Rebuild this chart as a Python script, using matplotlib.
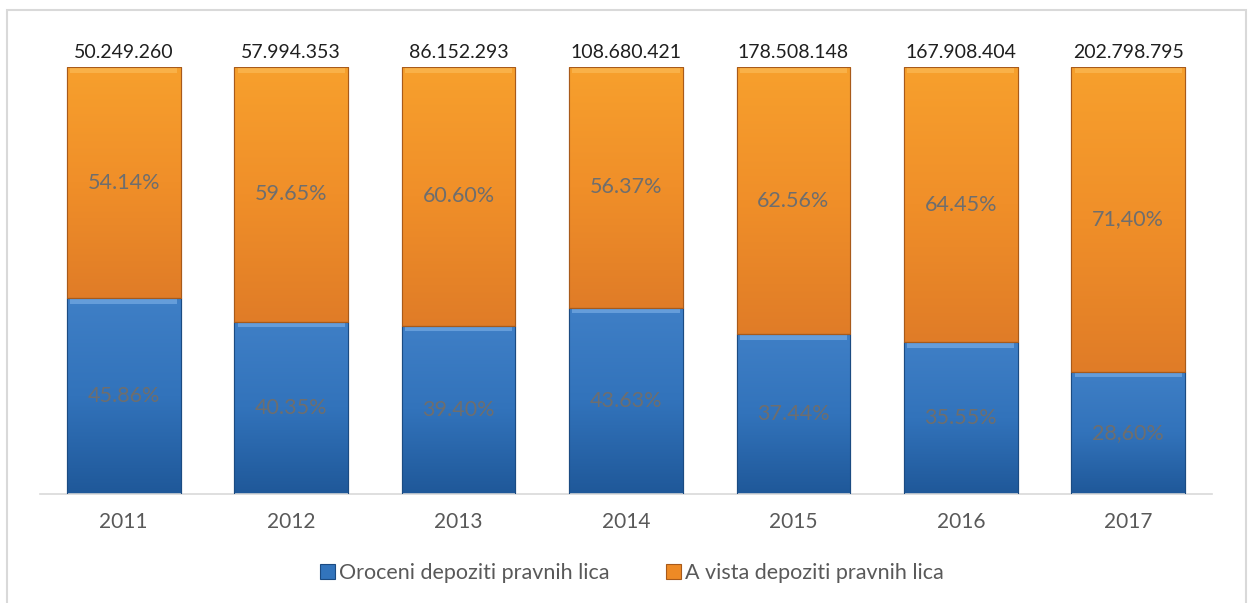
import matplotlib
matplotlib.use("Agg")
import matplotlib.pyplot as plt
import numpy as np
from matplotlib.colors import LinearSegmentedColormap
from matplotlib.patches import Rectangle

plt.rcParams["font.family"] = ["Lato", "DejaVu Sans"]

years = ["2011", "2012", "2013", "2014", "2015", "2016", "2017"]
oroceni = [45.86, 40.35, 39.40, 43.63, 37.44, 35.55, 28.60]
a_vista = [54.14, 59.65, 60.60, 56.37, 62.56, 64.45, 71.40]
oroceni_labels = ["45.86%", "40.35%", "39.40%", "43.63%", "37.44%", "35.55%", "28,60%"]
a_vista_labels = ["54.14%", "59.65%", "60.60%", "56.37%", "62.56%", "64.45%", "71,40%"]
totals = ["50.249.260", "57.994.353", "86.152.293", "108.680.421",
          "178.508.148", "167.908.404", "202.798.795"]

BLUE = "#3274BC"
ORANGE = "#EE8A25"
blue_cmap = LinearSegmentedColormap.from_list("b", ["#1F5899", "#3273BB", "#3F7FC6"])
orange_cmap = LinearSegmentedColormap.from_list("o", ["#E07C27", "#F08F29", "#F7A02D"])

fig = plt.figure(figsize=(12.5, 6.03), dpi=100)
fig.patches.append(Rectangle((7 / 1250, -0.01), 1239 / 1250, 593 / 603 + 0.01,
                             transform=fig.transFigure, fill=False,
                             edgecolor="#D9D9D9", linewidth=1.5))
ax = fig.add_axes([40 / 1250, 109 / 603, 1172 / 1250, 427 / 603])

x = np.arange(len(years))
w = 0.68
b1 = ax.bar(x, oroceni, w, color=BLUE, edgecolor="#1B4B82", linewidth=0.8,
            label="Oroceni depoziti pravnih lica", zorder=2)
b2 = ax.bar(x, a_vista, w, bottom=oroceni, color=ORANGE, edgecolor="#A85A1A",
            linewidth=0.8, label="A vista depoziti pravnih lica", zorder=2)

grad = np.linspace(0, 1, 256).reshape(-1, 1)
for bars, cmap, hi in ((b1, blue_cmap, "#6FA6E0"), (b2, orange_cmap, "#FBB650")):
    for p in bars:
        x0, y0 = p.get_x(), p.get_y()
        pw, ph = p.get_width(), p.get_height()
        im = ax.imshow(grad, cmap=cmap, origin="lower", aspect="auto",
                       extent=(x0, x0 + pw, y0, y0 + ph), zorder=2.5)
        im.set_clip_path(p)
        # bevel strip on top
        ax.add_patch(Rectangle((x0 + 0.02, y0 + ph - 1.3), pw - 0.04, 1.2,
                               color=hi, alpha=0.8, lw=0, zorder=2.6))
        ax.add_patch(Rectangle((x0, y0), pw, ph, fill=False,
                               edgecolor=p.get_edgecolor(), lw=0.8, zorder=2.7))

for i in range(len(years)):
    ax.text(x[i], oroceni[i] / 2, oroceni_labels[i], ha="center", va="center",
            fontsize=15.5, color="#6E6E6E", zorder=3)
    ax.text(x[i], oroceni[i] + a_vista[i] / 2, a_vista_labels[i], ha="center",
            va="center", fontsize=15.5, color="#6E6E6E", zorder=3)
    ax.text(x[i], 101.5, totals[i], ha="center", va="bottom", fontsize=14,
            color="#1F1F1F", zorder=3)

ax.set_xlim(-0.5, 6.5)
ax.set_ylim(0, 100)
ax.set_xticks(x)
ax.set_xticklabels(years, fontsize=15, color="#595959")
ax.tick_params(axis="x", length=0, pad=13)
ax.set_yticks([])
for s in ["top", "right", "left"]:
    ax.spines[s].set_visible(False)
ax.spines["bottom"].set_color("#D9D9D9")
ax.spines["bottom"].set_linewidth(1.2)

leg = ax.legend(handles=[b1, b2], loc="center", bbox_to_anchor=(0.505, -0.185),
                ncol=2, frameon=False, fontsize=15.5, handlelength=0.7,
                handleheight=0.7, handletextpad=0.2, columnspacing=2.6)
for t in leg.get_texts():
    t.set_color("#595959")

fig.savefig("out.png", dpi=100)
